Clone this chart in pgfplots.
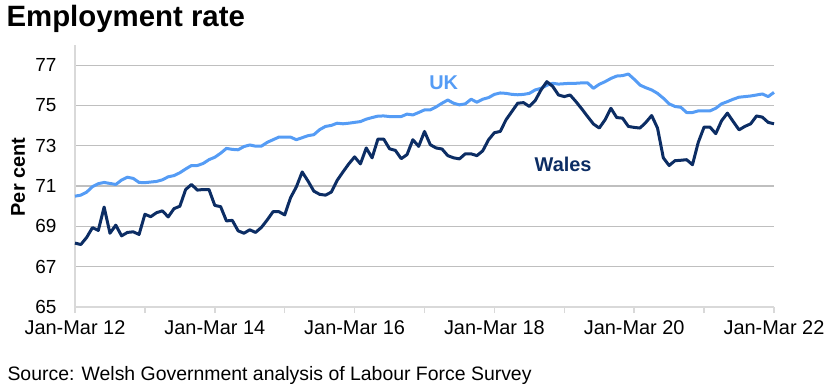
\documentclass[border=0pt]{standalone}
\usepackage{pgfplots}
\pgfplotsset{compat=1.18}
\usepackage{pgfplotstable}
\usepackage{fontspec}
\setmainfont{Liberation Sans}
\definecolor{ukblue}{RGB}{85,156,245}
\definecolor{walesnavy}{RGB}{12,45,100}
\definecolor{gridgrey}{RGB}{191,191,191}
\definecolor{axisgrey}{RGB}{217,217,217}

\pgfplotstableread{
m uk wales
0 70.50 68.17
1 70.55 68.10
2 70.70 68.45
3 70.97 68.94
4 71.12 68.80
5 71.18 69.96
6 71.13 68.66
7 71.08 69.06
8 71.30 68.53
9 71.44 68.70
10 71.38 68.73
11 71.18 68.60
12 71.17 69.60
13 71.20 69.48
14 71.23 69.68
15 71.31 69.77
16 71.46 69.47
17 71.52 69.88
18 71.66 70.00
19 71.85 70.83
20 72.02 71.08
21 72.02 70.80
22 72.12 70.83
23 72.31 70.83
24 72.43 70.04
25 72.63 69.98
26 72.87 69.27
27 72.82 69.30
28 72.80 68.78
29 72.96 68.66
30 73.04 68.83
31 72.98 68.70
32 72.98 68.95
33 73.17 69.32
34 73.30 69.73
35 73.43 69.73
36 73.43 69.57
37 73.43 70.42
38 73.30 70.96
39 73.40 71.70
40 73.50 71.25
41 73.55 70.75
42 73.80 70.59
43 73.96 70.55
44 74.01 70.70
45 74.12 71.28
46 74.09 71.70
47 74.12 72.10
48 74.16 72.45
49 74.20 72.10
50 74.32 72.89
51 74.40 72.40
52 74.47 73.33
53 74.48 73.33
54 74.45 72.85
55 74.45 72.77
56 74.45 72.36
57 74.57 72.56
58 74.53 73.30
59 74.65 72.97
60 74.78 73.71
61 74.78 73.05
62 74.93 72.89
63 75.11 72.84
64 75.27 72.51
65 75.11 72.40
66 75.03 72.35
67 75.08 72.60
68 75.31 72.60
69 75.16 72.51
70 75.31 72.75
71 75.39 73.30
72 75.55 73.65
73 75.62 73.71
74 75.60 74.29
75 75.55 74.70
76 75.53 75.11
77 75.55 75.14
78 75.60 74.95
79 75.77 75.24
80 75.85 75.77
81 76.00 76.18
82 76.10 75.95
83 76.06 75.52
84 76.08 75.44
85 76.10 75.52
86 76.10 75.19
87 76.12 74.83
88 76.12 74.45
89 75.85 74.08
90 76.05 73.88
91 76.18 74.29
92 76.34 74.86
93 76.46 74.40
94 76.48 74.37
95 76.56 73.96
96 76.30 73.91
97 76.01 73.88
98 75.88 74.16
99 75.77 74.50
100 75.60 73.88
101 75.36 72.40
102 75.08 72.02
103 74.95 72.26
104 74.91 72.28
105 74.65 72.31
106 74.65 72.06
107 74.73 73.17
108 74.73 73.93
109 74.73 73.93
110 74.86 73.60
111 75.08 74.24
112 75.19 74.62
113 75.31 74.20
114 75.41 73.79
115 75.44 73.96
116 75.47 74.09
117 75.52 74.48
118 75.57 74.42
119 75.44 74.16
120 75.65 74.09
}\datatable

\begin{document}
\begin{tikzpicture}
\path[use as bounding box] (0,0) rectangle (830bp,388bp);
\begin{axis}[
  at={(75bp,81bp)}, anchor=south west,
  scale only axis, width=699bp, height=262bp,
  xmin=0, xmax=120, ymin=65, ymax=78,
  axis x line*=bottom, axis y line*=left,
  axis line style={draw=axisgrey, line width=2.2bp},
  xtick={0,12,...,120},
  xticklabels={Jan-Mar 12,,Jan-Mar 14,,Jan-Mar 16,,Jan-Mar 18,,Jan-Mar 20,,Jan-Mar 22},
  ytick={65,67,...,77},
  tick align=outside,
  x tick style={draw=axisgrey, line width=1.5bp},
  major tick length=6bp,
  y tick style={draw=none},
  ymajorgrids, grid style={draw=gridgrey, line width=1.2bp},
  xticklabel style={font=\fontsize{20}{22}\selectfont, text=black, yshift=-4bp},
  yticklabel style={font=\fontsize{19}{21}\selectfont, text=black, xshift=-9bp},
  /pgf/number format/assume math mode=true,
  clip=false,
]
\addplot[ukblue, line width=3bp, line join=round] table[x=m, y=uk] {\datatable};
\addplot[walesnavy, line width=3bp, line join=round] table[x=m, y=wales] {\datatable};
\node[ukblue, font=\fontsize{20}{22}\selectfont\bfseries] at (axis cs:63.3,76.15) {UK};
\node[walesnavy, font=\fontsize{20}{22}\selectfont\bfseries] at (axis cs:83.8,72.07) {Wales};
\end{axis}
\node[anchor=base west, font=\fontsize{29.5}{31}\selectfont\bfseries] at (3bp,361bp) {Employment rate};
\node[rotate=90, font=\fontsize{20}{22}\selectfont\bfseries] at (18bp,211bp) {Per cent};
\node[anchor=base west, font=\fontsize{19.5}{21}\selectfont] at (4bp,8bp) {Source: Welsh Government analysis of Labour Force Survey};
\end{tikzpicture}
\end{document}
